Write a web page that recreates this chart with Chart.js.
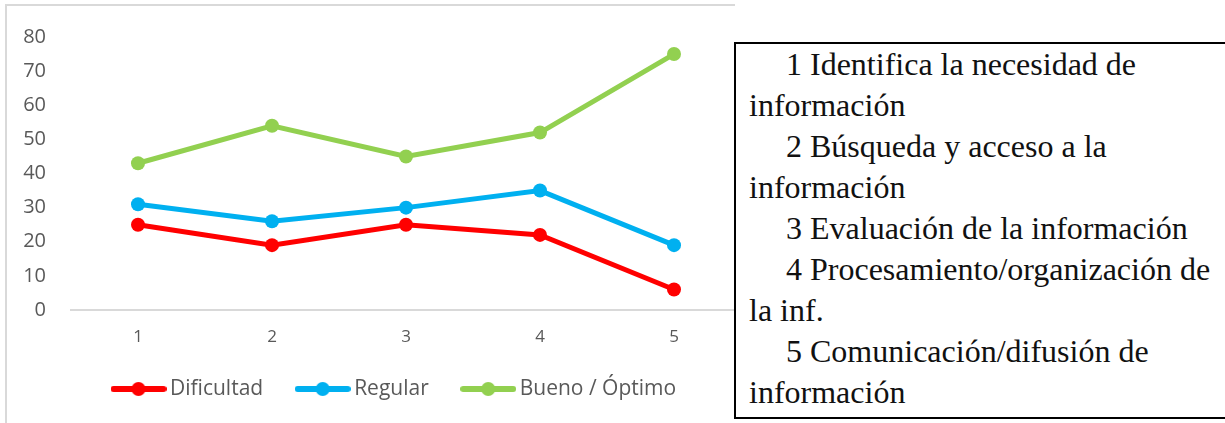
<!DOCTYPE html>
<html>
<head>
<meta charset="utf-8">
<script src="https://cdn.jsdelivr.net/npm/chart.js@4"></script>
<style>
  body { margin: 0; background: #fff; width: 1225px; height: 423px; overflow: hidden; position: relative; }
  #frame { position: absolute; left: 5px; top: 4px; width: 728px; height: 440px; border-left: 2px solid #d9d9d9; border-top: 2px solid #d9d9d9; }
  #wrap { position: absolute; left: 0; top: 0; width: 800px; height: 423px; }
  #box { position: absolute; left: 734px; top: 42px; width: 476px; height: 373px; border: 2px solid #000; background: #fff; z-index: 2;
         font-family: "Liberation Serif", "Times New Roman", serif; font-size: 32px; line-height: 41px; color: #111; padding-left: 13px; box-sizing: content-box; }
  #box div { white-space: nowrap; }
  #box .first { padding-left: 37px; }
</style>
</head>
<body>
<div id="frame"></div>
<div id="wrap"><canvas id="chart" width="800" height="423"></canvas></div>
<div id="box"></div>
<script>
// Chart data
const categories = ['1', '2', '3', '4', '5'];
const dificultad = [25, 19, 25, 22, 6];
const regular = [31, 26, 30, 35, 19];
const bueno = [43, 54, 45, 52, 75];
const yTicks = [0, 10, 20, 30, 40, 50, 60, 70, 80];

// Text box with the category descriptions
const descriptions = [
  ['1 Identifica la necesidad de', 'información'],
  ['2 Búsqueda y acceso a la', 'información'],
  ['3 Evaluación de la información'],
  ['4 Procesamiento/organización de', 'la inf.'],
  ['5 Comunicación/difusión de', 'información']
];

const box = document.getElementById('box');
descriptions.forEach(lines => {
  lines.forEach((line, i) => {
    const div = document.createElement('div');
    if (i === 0) div.className = 'first';
    div.textContent = line;
    box.appendChild(div);
  });
});

// Legend symbol: line with a dot in the middle
const makeLegendSymbol = (color) => {
  const c = document.createElement('canvas');
  c.width = 56;
  c.height = 16;
  const ctx = c.getContext('2d');
  ctx.strokeStyle = color;
  ctx.lineWidth = 6;
  ctx.lineCap = 'round';
  ctx.beginPath();
  ctx.moveTo(3, 8);
  ctx.lineTo(53, 8);
  ctx.stroke();
  ctx.fillStyle = color;
  ctx.beginPath();
  ctx.arc(28, 8, 7, 0, Math.PI * 2);
  ctx.fill();
  return c;
};

const series = [
  { label: 'Dificultad', data: dificultad, color: '#FF0000' },
  { label: 'Regular', data: regular, color: '#00B0F0' },
  { label: 'Bueno / Óptimo', data: bueno, color: '#92D050' }
];

const symbols = series.map(s => makeLegendSymbol(s.color));

// Put the legend row where the reference has it
const legendPlacer = {
  id: 'legendPlacer',
  afterLayout: (chart) => {
    chart.legend.left = 79;
    chart.legend.top -= 13.5;
  }
};

const ctx = document.getElementById('chart').getContext('2d');
new Chart(ctx, {
  type: 'line',
  data: {
    labels: categories,
    datasets: series.map(s => ({
      label: s.label,
      data: s.data,
      borderColor: s.color,
      backgroundColor: s.color,
      borderWidth: 5,
      pointRadius: 7,
      pointBorderWidth: 0,
      pointBackgroundColor: s.color,
      tension: 0,
      fill: false
    }))
  },
  plugins: [legendPlacer],
  options: {
    responsive: false,
    animation: false,
    layout: {
      padding: { left: 0, right: 59, top: 34, bottom: 0 }
    },
    plugins: {
      tooltip: { enabled: false },
      legend: {
        position: 'bottom',
        align: 'start',
        labels: {
          usePointStyle: true,
          pointStyleWidth: 42,
          padding: 38.5,
          color: '#595959',
          font: { family: 'Open Sans', size: 21 },
          generateLabels: (chart) => {
            const items = Chart.defaults.plugins.legend.labels.generateLabels(chart);
            items.forEach((item, i) => { item.pointStyle = symbols[i]; });
            return items;
          }
        }
      }
    },
    scales: {
      x: {
        offset: true,
        grid: { display: false, drawTicks: false },
        border: { display: true, color: '#d9d9d9', width: 2 },
        ticks: { color: '#595959', font: { family: 'Open Sans', size: 17 }, padding: 17 },
        afterFit: (scale) => { scale.height = 43.5; }
      },
      y: {
        min: 0,
        max: 80,
        grid: { display: false, drawTicks: false },
        border: { display: false },
        afterBuildTicks: (scale) => { scale.ticks = yTicks.map(v => ({ value: v })); },
        ticks: { color: '#595959', font: { family: 'Open Sans', size: 20 }, padding: 25 },
        afterFit: (scale) => { scale.width = 71; }
      }
    }
  }
});
</script>
</body>
</html>
